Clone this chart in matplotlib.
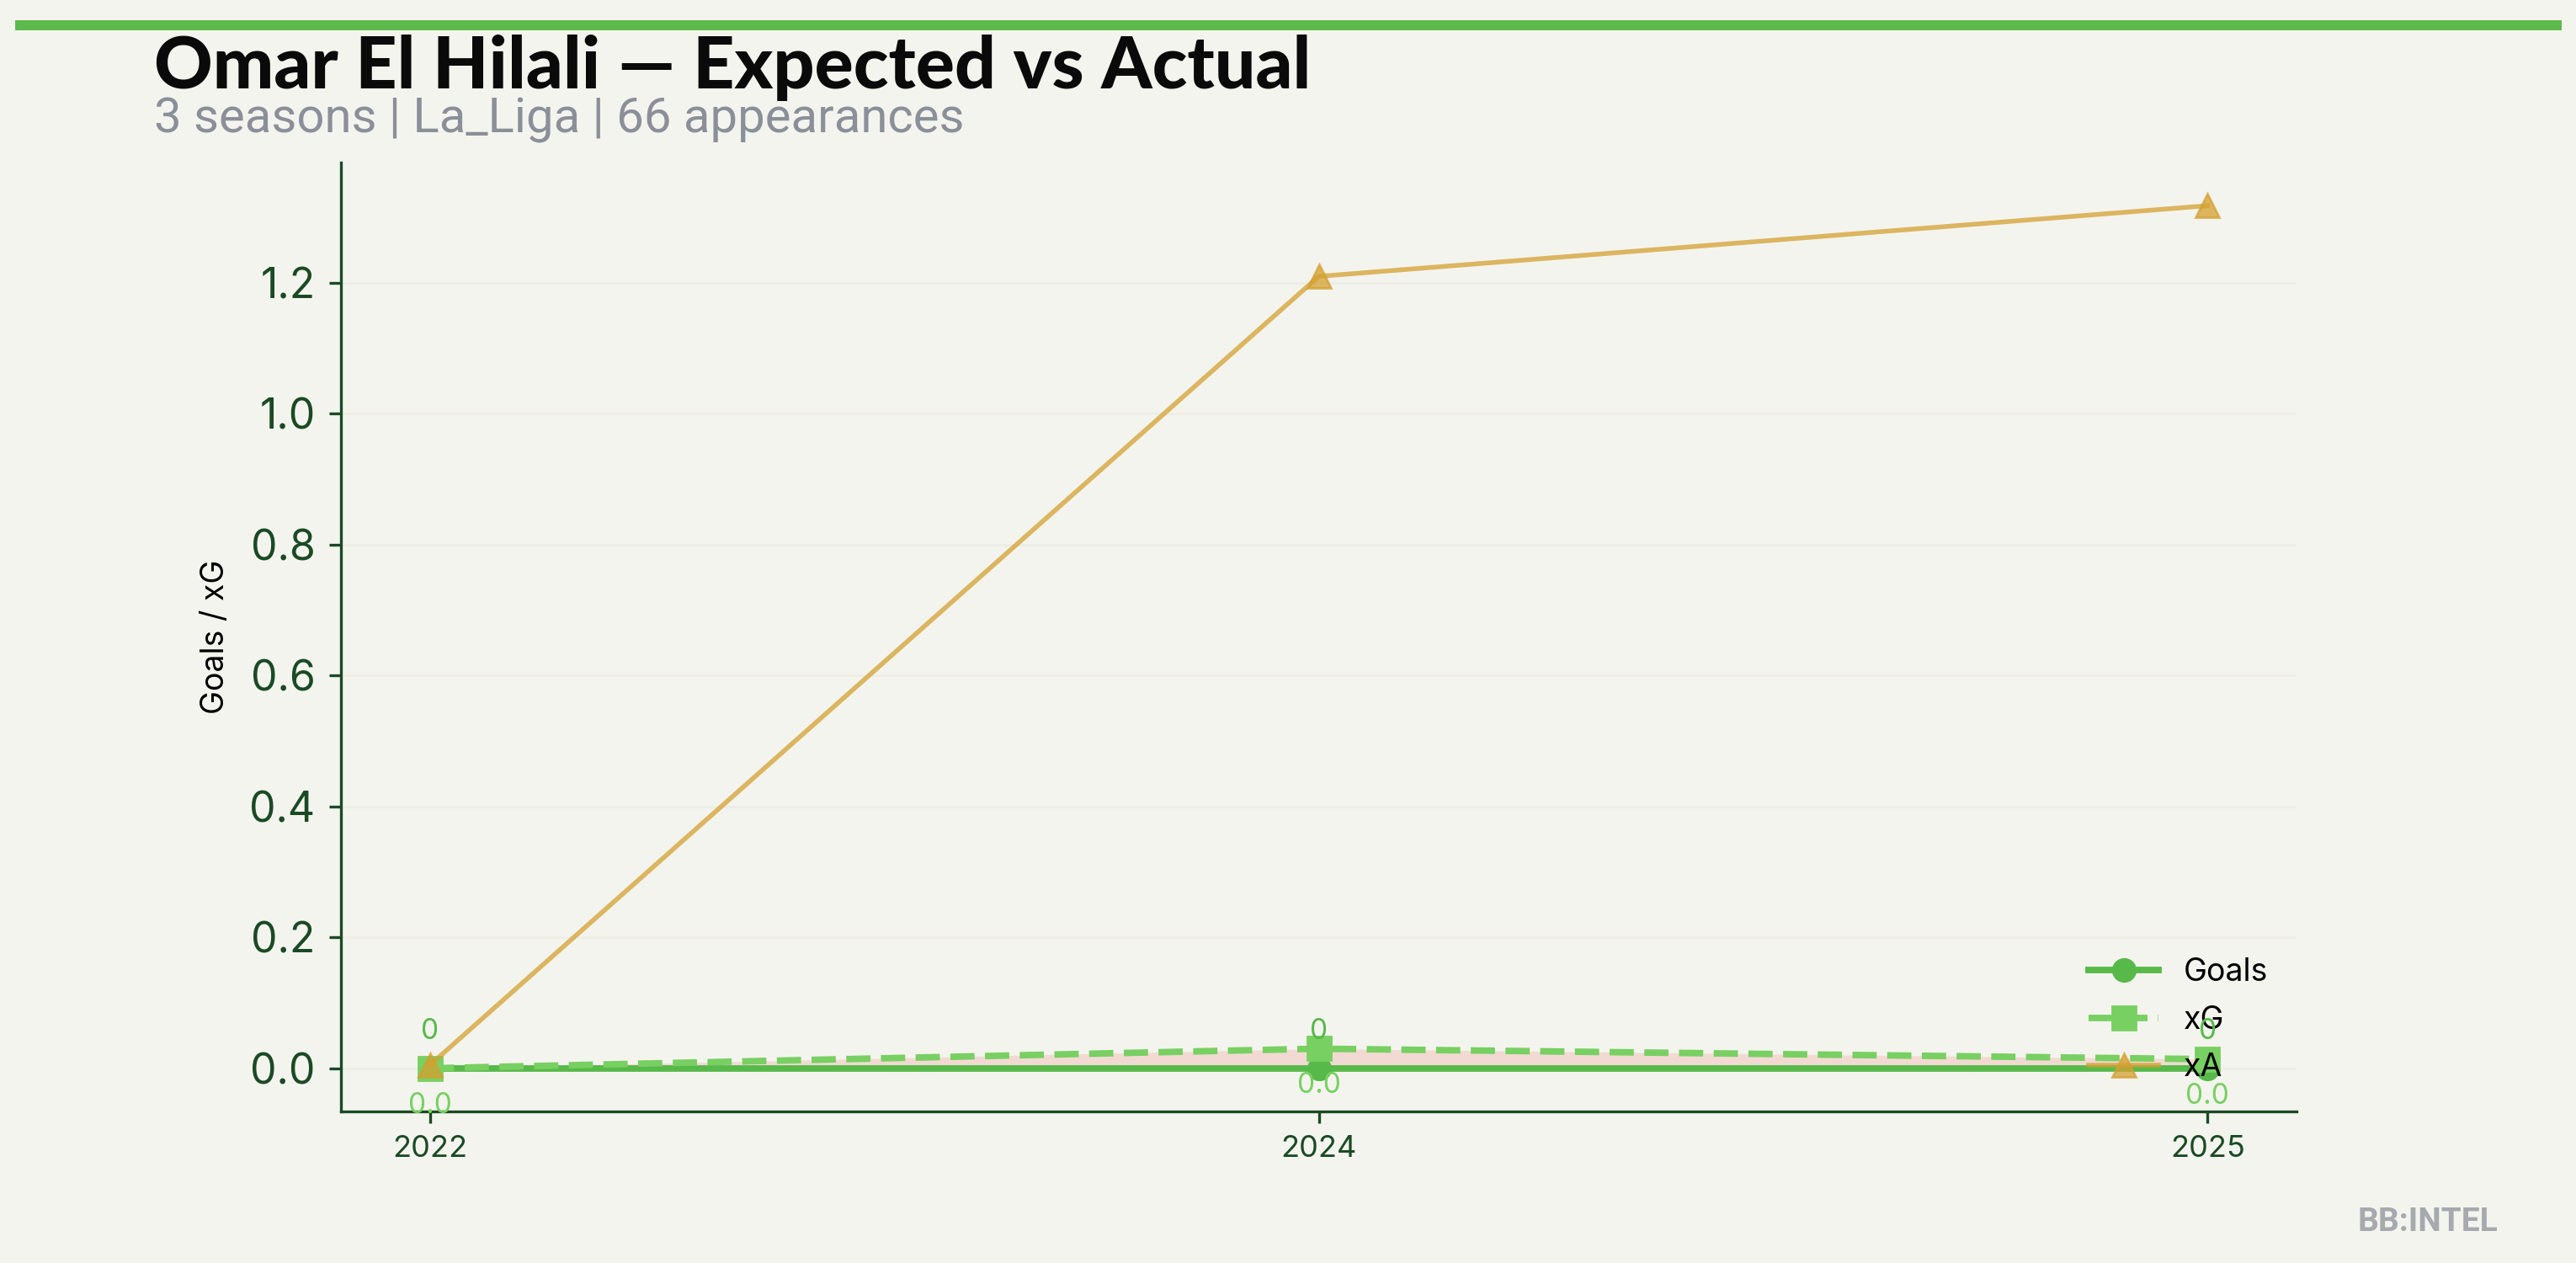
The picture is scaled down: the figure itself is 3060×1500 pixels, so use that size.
import matplotlib
matplotlib.use("Agg")
import matplotlib.pyplot as plt
import numpy as np

# season data
seasons = ["2022", "2024", "2025"]
goals = [0, 0, 0]
xg = [0.0, 0.03, 0.014]
xa = [0.005, 1.21, 1.318]

title = "Omar El Hilali \u2014 Expected vs Actual"
subtitle = "3 seasons | La_Liga | 66 appearances"

bg = "#f4f4ee"
c_goals = "#57b94a"
c_xg = "#78d062"
c_xa = "#d4a030"
dark = "#1a4a24"

plt.rcParams["font.family"] = ["Inter", "DejaVu Sans"]

fig = plt.figure(figsize=(15.3, 7.5), dpi=200, facecolor=bg)
ax = fig.add_axes([0.1324, 0.12, 0.7591, 0.7513], facecolor=bg)

x = np.arange(len(seasons))

# underperformance shading
ax.fill_between(x, goals, xg, where=np.array(xg) >= np.array(goals),
                color="#e74c3c", alpha=0.15, linewidth=0, zorder=1)

ax.plot(x, goals, color=c_goals, lw=2.8, marker="o", ms=9.5, label="Goals", zorder=3)
ax.plot(x, xg, color=c_xg, lw=2.8, ls="--", marker="s", ms=10, label="xG", zorder=4)
ax.plot(x, xa, color=c_xa, lw=2, marker="^", ms=10, alpha=0.75, label="xA", zorder=5)

for i in range(len(x)):
    ax.annotate(f"{int(goals[i])}", (x[i], goals[i]), xytext=(0, 10),
                textcoords="offset points", ha="center", va="bottom",
                fontsize=12, color=c_goals, zorder=6)
    ax.annotate(f"{xg[i]:.1f}", (x[i], xg[i]), xytext=(0, -10),
                textcoords="offset points", ha="center", va="top",
                fontsize=12, color=c_xg, zorder=6)

ax.set_xticks(x)
ax.set_xticklabels(seasons)
ax.tick_params(axis="x", labelsize=13, colors=dark, length=5, width=1.2, pad=5)
ax.tick_params(axis="y", labelsize=18, colors=dark, length=5, width=1.2, pad=6)
ax.set_ylabel("Goals / xG", fontsize=13.5, color="black", labelpad=8)

for s in ["top", "right"]:
    ax.spines[s].set_visible(False)
for s in ["left", "bottom"]:
    ax.spines[s].set_color(dark)
    ax.spines[s].set_linewidth(1.2)

ax.grid(axis="y", color="#eeeee7", lw=1)
ax.set_axisbelow(True)

leg = ax.legend(loc="lower right", frameon=False, fontsize=13.5,
                handlelength=2.2, labelspacing=0.55)
for t in leg.get_texts():
    t.set_color("black")

# header
fig.add_artist(plt.Line2D([0.0078, 0.9925], [0.98, 0.98], color="#5cb94b",
                          lw=4.3, transform=fig.transFigure))
fig.text(0.0598, 0.93, title, fontsize=31, fontweight="black",
         family=["Lato", "DejaVu Sans"], color="#0a0a0a", va="baseline")
fig.text(0.0598, 0.8953, subtitle, fontsize=20.9, family=["Roboto", "DejaVu Sans"],
         color="#8a8f99", va="baseline")
fig.text(0.9696, 0.0253, "BB:INTEL", fontsize=14, fontweight="bold",
         family=["Roboto", "DejaVu Sans"], color="#a6a9ae", ha="right", va="baseline")

fig.savefig("out.png", dpi=200, facecolor=bg)
